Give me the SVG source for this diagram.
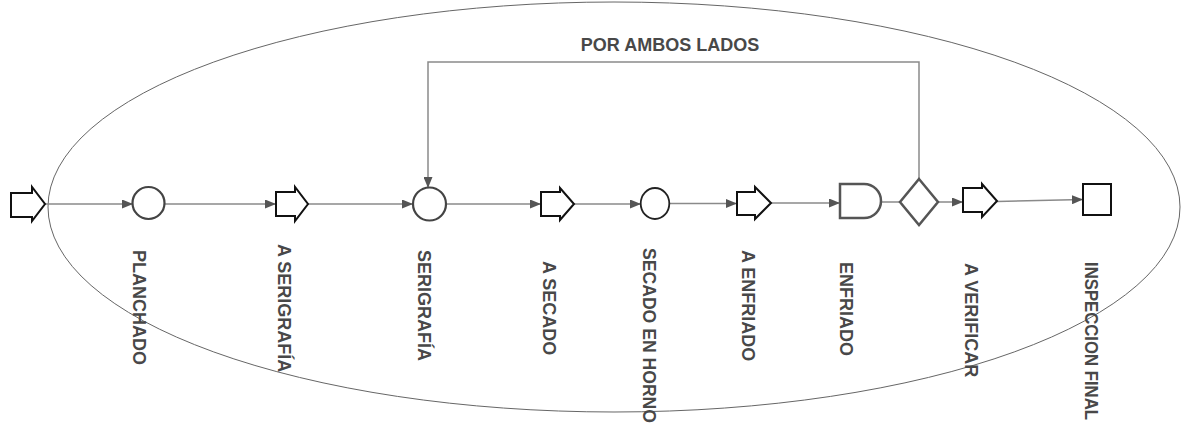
<svg xmlns="http://www.w3.org/2000/svg" width="1182" height="430" viewBox="0 0 1182 430">
<style>
.conn{fill:none;stroke:#8a8a8a;stroke-width:1.5}
.arr{fill:#fff;stroke:#111;stroke-width:2}
.sym{fill:#fff;stroke:#444;stroke-width:2.2}
.lbl{font-family:"Liberation Sans",Arial,sans-serif;font-weight:bold;font-size:18px;fill:#484848}
</style>
<defs>
<marker id="ah" markerUnits="userSpaceOnUse" markerWidth="11" markerHeight="9" refX="11" refY="4.5" orient="auto">
<path d="M0,0 L11,4.5 L0,9 Z" fill="#555"/>
</marker>
</defs>
<rect width="1182" height="430" fill="#fff"/>
<ellipse cx="614" cy="207" rx="566" ry="205" fill="none" stroke="#666" stroke-width="1"/>
<g id="connectors">
<line class="conn" x1="45" y1="204" x2="133" y2="204" marker-end="url(#ah)"/>
<line class="conn" x1="165" y1="204" x2="276" y2="204" marker-end="url(#ah)"/>
<line class="conn" x1="308" y1="204" x2="413" y2="204" marker-end="url(#ah)"/>
<line class="conn" x1="446" y1="204" x2="541" y2="204" marker-end="url(#ah)"/>
<line class="conn" x1="574" y1="204" x2="641" y2="204" marker-end="url(#ah)"/>
<line class="conn" x1="669" y1="203.5" x2="737" y2="203.5" marker-end="url(#ah)"/>
<line class="conn" x1="771" y1="203" x2="840" y2="203" marker-end="url(#ah)"/>
<line class="conn" x1="881" y1="202" x2="900" y2="202"/>
<line class="conn" x1="938" y1="202" x2="963" y2="202" marker-end="url(#ah)"/>
<line class="conn" x1="997" y1="201.5" x2="1083" y2="199.5" marker-end="url(#ah)"/>
<polyline class="conn" points="919,179 919,62 428,62 428,188" marker-end="url(#ah)"/>
<text class="lbl" x="670" y="51" text-anchor="middle">POR AMBOS LADOS</text>
</g>
<g id="start"><polygon class="arr" points="11,193 32,193 32,187 45,204 32,221 32,217 11,217"/></g>
<g id="planchado">
<circle class="sym" cx="148.5" cy="203" r="16"/>
<text class="lbl" transform="translate(133,250) rotate(90)">PLANCHADO</text>
</g>
<g id="a-serigrafia">
<polygon class="arr" points="276,192 295,192 295,187 308,204 295,221 295,216 276,216"/>
<text class="lbl" transform="translate(278,244) rotate(90)">A SERIGRAFÍA</text>
</g>
<g id="serigrafia">
<circle class="sym" cx="429.5" cy="204" r="16.5"/>
<text class="lbl" transform="translate(418,250) rotate(90)">SERIGRAFÍA</text>
</g>
<g id="a-secado">
<polygon class="arr" points="541,192 560,192 560,188 574,204 560,220 560,216 541,216"/>
<text class="lbl" transform="translate(543,261) rotate(90)">A SECADO</text>
</g>
<g id="secado-horno">
<ellipse cx="655" cy="203.5" rx="14.3" ry="15.5" fill="#fff" stroke="#222" stroke-width="1.8"/>
<text class="lbl" transform="translate(643,248) rotate(90)" textLength="175" lengthAdjust="spacingAndGlyphs">SECADO EN HORNO</text>
</g>
<g id="a-enfriado">
<polygon class="arr" points="737,192 755,192 755,187 771,203 755,219 755,215 737,215"/>
<text class="lbl" transform="translate(742,250) rotate(90)">A ENFRIADO</text>
</g>
<g id="enfriado">
<path class="sym" d="M840,184 H864 A17,17 0 0 1 864,218 H840 Z" style="stroke:#555;stroke-width:2.5"/>
<text class="lbl" transform="translate(840,262) rotate(90)">ENFRIADO</text>
</g>
<g id="decision">
<polygon class="sym" points="919,179 938,202 919,225 900,202" style="stroke:#555;stroke-width:2.5"/>
</g>
<g id="a-verificar">
<polygon class="arr" points="963,188 982,188 982,184 997,201 982,217 982,212 963,212"/>
<text class="lbl" transform="translate(965,263) rotate(90)">A VERIFICAR</text>
</g>
<g id="inspeccion">
<rect x="1083" y="184" width="28" height="31" fill="#fff" stroke="#111" stroke-width="2"/>
<text class="lbl" transform="translate(1085,262) rotate(90)" textLength="158" lengthAdjust="spacingAndGlyphs">INSPECCION FINAL</text>
</g>
</svg>
